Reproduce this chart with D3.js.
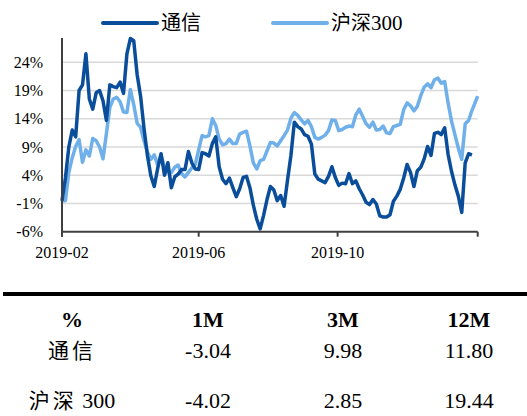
<!DOCTYPE html>
<html lang="zh">
<head>
<meta charset="UTF-8" />
<title>通信 vs 沪深300</title>
<script src="https://cdn.jsdelivr.net/npm/d3@7"></script>
<style>
  body { margin: 0; background: #fff; }
  svg { display: block; }
  .serif { font-family: "Liberation Serif", "Times New Roman", serif; }
  .cjk { font-family: "Noto Sans CJK SC", sans-serif; }
</style>
</head>
<body>
<svg id="chart" width="527" height="416"></svg>
<script>
// sample dates (every 3 days)
const dates = [
  "2019-02-01","2019-02-04","2019-02-07","2019-02-10","2019-02-13","2019-02-16","2019-02-19","2019-02-22","2019-02-25","2019-02-28",
  "2019-03-03","2019-03-06","2019-03-09","2019-03-12","2019-03-15","2019-03-18","2019-03-21","2019-03-24","2019-03-27","2019-03-30",
  "2019-04-02","2019-04-05","2019-04-08","2019-04-11","2019-04-14","2019-04-17","2019-04-20","2019-04-23","2019-04-26","2019-04-29",
  "2019-05-02","2019-05-05","2019-05-08","2019-05-11","2019-05-14","2019-05-17","2019-05-20","2019-05-23","2019-05-26","2019-05-29",
  "2019-06-01","2019-06-04","2019-06-07","2019-06-10","2019-06-13","2019-06-16","2019-06-19","2019-06-22","2019-06-25","2019-06-28",
  "2019-07-01","2019-07-04","2019-07-07","2019-07-10","2019-07-13","2019-07-16","2019-07-19","2019-07-22","2019-07-25","2019-07-28","2019-07-31",
  "2019-08-03","2019-08-06","2019-08-09","2019-08-12","2019-08-15","2019-08-18","2019-08-21","2019-08-24","2019-08-27","2019-08-30",
  "2019-09-02","2019-09-05","2019-09-08","2019-09-11","2019-09-14","2019-09-17","2019-09-20","2019-09-23","2019-09-26","2019-09-29",
  "2019-10-02","2019-10-05","2019-10-08","2019-10-11","2019-10-14","2019-10-17","2019-10-20","2019-10-23","2019-10-26","2019-10-29",
  "2019-11-01","2019-11-04","2019-11-07","2019-11-10","2019-11-13","2019-11-16","2019-11-19","2019-11-22","2019-11-25","2019-11-28",
  "2019-12-01","2019-12-04","2019-12-07","2019-12-10","2019-12-13","2019-12-16","2019-12-19","2019-12-22","2019-12-25","2019-12-28","2019-12-31",
  "2020-01-03","2020-01-06","2020-01-09","2020-01-12","2020-01-15","2020-01-18","2020-01-21","2020-01-24","2020-01-27","2020-01-30",
  "2020-02-01"
];

// 通信 (%)
const telecom = [
  -0.5, 3.5, 9.0, 12.0, 10.8, 19.0, 20.0, 25.5, 17.5, 15.7,
  18.6, 19.0, 17.2, 13.7, 20.0, 19.7, 19.5, 20.5, 18.5, 25.5,
  28.2, 27.8, 21.8, 18.0, 12.3, 7.5, 3.9, 2.0, 5.2, 7.8,
  4.0, 6.2, 1.8, 3.7, 4.2, 5.0, 5.0, 8.2, 6.2, 5.1,
  5.0, 8.0, 7.8, 7.4, 9.6, 10.8, 5.5, 3.3, 2.5, 3.5,
  1.8, 0.2, 1.6, 3.6, 3.8, 1.8, -1.3, -3.8, -5.5, -3.1, -0.3,
  2.0, 1.4, -0.5, 0.4, -1.5, 3.1, 7.5, 13.4, 12.6, 12.2,
  11.2, 10.9, 9.5, 4.2, 3.3, 3.0, 2.7, 3.8, 5.5, 3.6,
  2.2, 2.6, 2.5, 4.3, 2.5, 3.0, 1.6, 0.5, -0.8, -1.2,
  -0.3, -1.1, -3.2, -3.4, -3.4, -3.0, -0.6, 0.3, 1.5, 3.5,
  5.9, 4.5, 2.0, 4.8, 5.4, 6.9, 9.1, 7.5, 11.4, 11.6, 11.2,
  12.4, 7.7, 4.7, 2.3, 0.3, -2.6, 6.2, 7.8, 7.6, null,
  null
];

// 沪深300 (%)
const hs300 = [
  -0.5, -0.5, 4.5, 7.1, 9.1, 10.3, 6.3, 8.5, 7.4, 10.5,
  10.1, 9.0, 6.9, 11.4, 16.0, 17.5, 17.8, 17.0, 15.2, 15.1,
  19.2, 16.5, 13.2, 12.5, 10.1, 8.1, 6.8, 7.6, 5.8, 7.5,
  5.5, 4.5, 4.5, 5.4, 5.8, 4.3, 3.7, 4.5, 5.3, 5.9,
  8.5, 11.0, 10.8, 11.0, 14.0, 12.8, 10.4, 9.4, 9.6, 10.4,
  9.6, 9.6, 11.3, 11.6, 11.8, 9.2, 6.2, 5.1, 6.6, 6.8, 8.3,
  9.8, 9.7, 9.2, 10.1, 11.0, 12.0, 14.1, 15.1, 14.6, 13.8,
  13.1, 13.7, 12.6, 10.7, 10.4, 10.7, 11.1, 11.9, 13.8, 13.7,
  11.9, 12.1, 12.5, 12.7, 12.6, 14.7, 15.7, 14.4, 13.1, 12.5,
  13.4, 12.0, 12.1, 12.7, 11.5, 11.4, 12.6, 12.8, 13.0, 15.6,
  16.8, 16.3, 15.4, 16.2, 18.1, 19.6, 20.2, 19.5, 20.9, 21.2, 20.3,
  20.6, 16.8, 13.6, 11.2, 8.8, 6.8, 13.1, 13.7, 15.5, 17.0,
  18.0
];

const seriesNames = ["通信", "沪深300"];
const yTicks = [-6, -1, 4, 9, 14, 19, 24];
const xTicks = ["2019-02-01", "2019-06-01", "2019-10-01", "2020-02-01"];
const xTickLabels = ["2019-02", "2019-06", "2019-10", ""];

const tableHeader = ["%", "1M", "3M", "12M"];
const tableNames = ["通信", "沪深 300"];
const tableValues = [
  ["-3.04", "9.98", "11.80"],
  ["-4.02", "2.85", "19.44"]
];

const colors = ["#0a4e9b", "#70b0ea"];

const parse = d3.timeParse("%Y-%m-%d");
const svg = d3.select("#chart");

const x = d3.scaleTime()
  .domain([parse("2019-02-01"), parse("2020-02-01")])
  .range([62, 477.7]);
const y = d3.scaleLinear().domain([-6, 28.3]).range([231.7, 38]);

// grid
svg.append("g")
  .selectAll("line")
  .data(yTicks.filter(d => d !== -6))
  .join("line")
  .attr("x1", x.range()[0]).attr("x2", x.range()[1])
  .attr("y1", d => y(d)).attr("y2", d => y(d))
  .attr("stroke", "#d9d9d9").attr("stroke-width", 1.5);

// y labels
svg.append("g")
  .selectAll("text")
  .data(yTicks)
  .join("text")
  .attr("class", "serif")
  .attr("x", 43).attr("y", d => y(d))
  .attr("dy", "0.35em")
  .attr("text-anchor", "end")
  .attr("font-size", 16)
  .attr("fill", "#000")
  .text(d => d + "%");

// lines
const line = d3.line()
  .defined(d => d.v != null)
  .x(d => x(d.t))
  .y(d => y(d.v));

const series = [telecom, hs300].map(vals =>
  dates.map((s, i) => ({ t: parse(s), v: vals[i] })));

// 沪深300 underneath, 通信 on top
[1, 0].forEach(k => {
  svg.append("path")
    .datum(series[k])
    .attr("fill", "none")
    .attr("stroke", colors[k])
    .attr("stroke-width", 3.5)
    .attr("stroke-linejoin", "round")
    .attr("d", line);
});

// axes
const axisColor = "#404040";
svg.append("line")
  .attr("x1", 62).attr("x2", 62)
  .attr("y1", y.range()[1]).attr("y2", y.range()[0] + 5)
  .attr("stroke", axisColor).attr("stroke-width", 2);
svg.append("line")
  .attr("x1", x.range()[0]).attr("x2", x.range()[1])
  .attr("y1", y.range()[0]).attr("y2", y.range()[0])
  .attr("stroke", axisColor).attr("stroke-width", 2);

const xt = svg.append("g")
  .selectAll("g")
  .data(xTicks)
  .join("g")
  .attr("transform", d => `translate(${x(parse(d))},${y.range()[0]})`);
xt.append("line").attr("y2", 5).attr("stroke", axisColor).attr("stroke-width", 2);
xt.append("text")
  .attr("class", "serif")
  .attr("y", 26)
  .attr("text-anchor", "middle")
  .attr("font-size", 16)
  .text((d, i) => xTickLabels[i]);

// legend
const legendX = [103, 273];
seriesNames.forEach((name, i) => {
  const g = svg.append("g").attr("transform", `translate(${legendX[i]},23)`);
  g.append("line").attr("x1", 0).attr("x2", 54)
    .attr("stroke", colors[i]).attr("stroke-width", 4).attr("stroke-linecap", "round");
  const t = g.append("text").attr("x", 58).attr("dy", "0.36em").attr("font-size", 20);
  const m = name.match(/^(\D+)(\d*)$/);
  t.append("tspan").attr("class", "cjk").text(m[1]);
  if (m[2]) t.append("tspan").attr("class", "serif").attr("font-size", 21).text(m[2]);
});

// table
svg.append("line")
  .attr("x1", 3).attr("x2", 527)
  .attr("y1", 294).attr("y2", 294)
  .attr("stroke", "#000").attr("stroke-width", 4);

const colX = [72, 208, 343, 469];
const rowY = [327, 358, 408];

svg.append("g")
  .selectAll("text")
  .data(tableHeader)
  .join("text")
  .attr("class", "serif")
  .attr("x", (d, i) => colX[i]).attr("y", rowY[0])
  .attr("text-anchor", "middle")
  .attr("font-size", 22).attr("font-weight", "bold")
  .text(d => d);

tableNames.forEach((name, r) => {
  const t = svg.append("text")
    .attr("x", colX[0]).attr("y", rowY[r + 1])
    .attr("text-anchor", "middle")
    .attr("font-size", 21);
  const m = name.match(/^(\D+?)(\s*\d*)$/);
  t.append("tspan").attr("class", "cjk").attr("letter-spacing", 3).text(m[1]);
  if (m[2]) t.append("tspan").attr("class", "serif").attr("font-size", 22).attr("xml:space", "preserve").text(m[2]);
  svg.append("g")
    .selectAll("text")
    .data(tableValues[r])
    .join("text")
    .attr("class", "serif")
    .attr("x", (d, i) => colX[i + 1]).attr("y", rowY[r + 1])
    .attr("text-anchor", "middle")
    .attr("font-size", 22)
    .text(d => d);
});
</script>
</body>
</html>
